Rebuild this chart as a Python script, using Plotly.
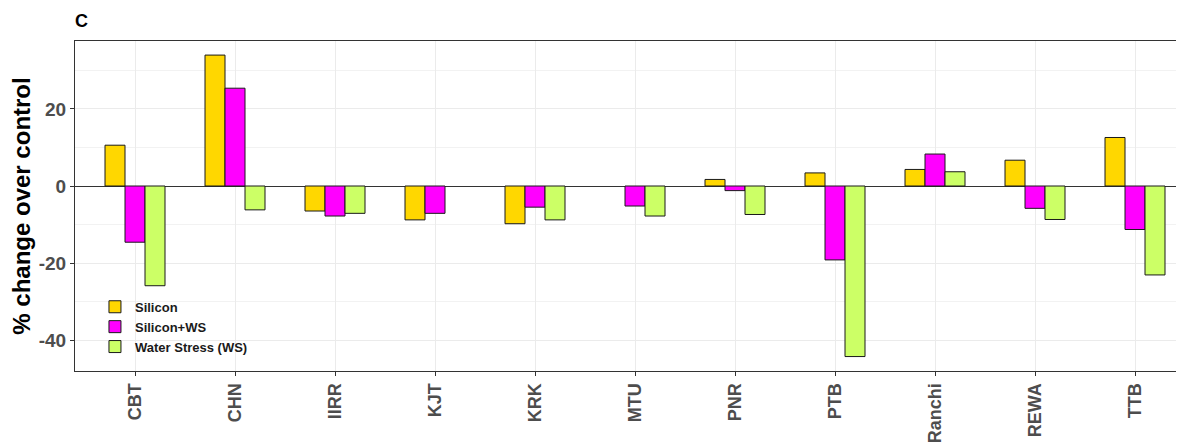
import plotly.graph_objects as go

categories = ["CBT", "CHN", "IIRR", "KJT", "KRK", "MTU", "PNR", "PTB", "Ranchi", "REWA", "TTB"]
silicon = [10.6, 34.0, -6.5, -8.8, -9.8, None, 1.7, 3.4, 4.3, 6.7, 12.6]
silicon_ws = [-14.6, 25.4, -7.8, -7.1, -5.5, -5.2, -1.2, -19.2, 8.3, -5.8, -11.3]
water_stress = [-25.9, -6.2, -7.1, None, -8.8, -7.8, -7.4, -44.3, 3.7, -8.7, -23.1]

y_tick_values = [-40, -20, 0, 20]
y_tick_labels = ["-40", "-20", "0", "20"]

series = [
    ("Silicon", silicon, "#FFD700"),
    ("Silicon+WS", silicon_ws, "#FF00FF"),
    ("Water Stress (WS)", water_stress, "#CCFF66"),
]

FONT = "Liberation Sans, Arial, sans-serif"
W, H = 1176, 437  # page body has an 8px default margin

fig = go.Figure()
for name, vals, col in series:
    fig.add_trace(go.Bar(
        x=categories, y=vals, name=name,
        marker=dict(color=col, line=dict(color="#1a1a1a", width=1)),
    ))

fig.update_layout(
    width=W, height=H,
    margin=dict(l=67, r=0, t=33, b=74, autoexpand=False),
    paper_bgcolor="white", plot_bgcolor="white",
    barmode="group", bargap=0.4, bargroupgap=0,
    font=dict(family=FONT, color="#1a1a1a"),
    title=dict(text="C", x=67/W, xanchor="left", xref="container",
               y=1-13/H, yanchor="middle", yref="container",
               font=dict(family=FONT, size=18, weight="bold", color="black")),
    showlegend=True,
    legend=dict(
        x=0.018, xanchor="left", y=0.24, yanchor="top",
        bgcolor="rgba(255,255,255,0)", borderwidth=0,
        font=dict(family=FONT, size=13, weight="bold", color="#1a1a1a"),
        tracegroupgap=0, itemwidth=30,
    ),
)

fig.update_xaxes(
    type="category", range=[-0.6, 10.49], automargin=False,
    showline=True, linecolor="#333333", linewidth=1, mirror=True,
    ticks="outside", ticklen=4, tickcolor="#333333", tickwidth=1,
    tickangle=-90,
    tickfont=dict(family=FONT, size=18, weight="bold", color="#4D4D4D"),
    showgrid=True, gridcolor="#EBEBEB", gridwidth=1,
    zeroline=False,
)
fig.update_yaxes(
    range=[-48.05, 37.66], automargin=False,
    tickmode="array", tickvals=y_tick_values, ticktext=y_tick_labels,
    showline=True, linecolor="#333333", linewidth=1, mirror=False,
    ticks="outside", ticklen=4, tickcolor="#333333", tickwidth=1,
    tickfont=dict(family=FONT, size=19, weight="bold", color="#4D4D4D"),
    showgrid=True, gridcolor="#EBEBEB", gridwidth=1,
    minor=dict(dtick=10, tick0=0, showgrid=True, gridcolor="#F2F2F2", gridwidth=1),
    zeroline=True, zerolinecolor="#333333", zerolinewidth=1,
    title=dict(text="% change over control", standoff=4,
               font=dict(family=FONT, size=24, weight="bold", color="black")),
)

# white background panel behind the legend (covers grid lines)
fig.add_shape(type="rect", xref="x", yref="y", layer="below",
              x0=-0.32, x1=1.33, y0=-44.2, y1=-25.7,
              fillcolor="white", line=dict(width=0))

fig.write_html("out.html")
